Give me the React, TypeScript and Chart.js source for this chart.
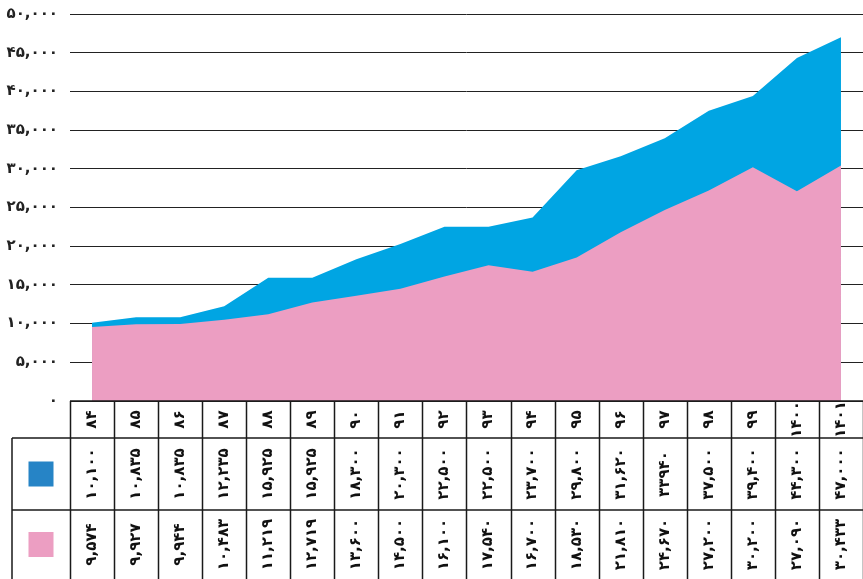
import React, { useEffect, useRef } from 'react';
import { Chart, registerables } from 'chart.js';
Chart.register(...registerables);

const categories = ['۸۴', '۸۵', '۸۶', '۸۷', '۸۸', '۸۹', '۹۰', '۹۱', '۹۲', '۹۳', '۹۴', '۹۵', '۹۶', '۹۷', '۹۸', '۹۹', '۱۴۰۰', '۱۴۰۱'];
const blueValues = [10100, 10835, 10835, 12235, 15925, 15925, 18300, 20300, 22500, 22500, 23700, 29800, 31620, 33940, 37500, 39400, 44300, 47000];
const pinkValues = [9574, 9927, 9944, 10483, 11219, 12719, 13600, 14500, 16100, 17540, 16700, 18530, 21810, 24670, 27200, 30200, 27090, 30433];
const blueLabels = ['۱۰,۱۰۰', '۱۰,۸۳۵', '۱۰,۸۳۵', '۱۲,۲۳۵', '۱۵,۹۲۵', '۱۵,۹۲۵', '۱۸,۳۰۰', '۲۰,۳۰۰', '۲۲,۵۰۰', '۲۲,۵۰۰', '۲۳,۷۰۰', '۲۹,۸۰۰', '۳۱,۶۲۰', '۳۳۹۴۰', '۳۷,۵۰۰', '۳۹,۴۰۰', '۴۴,۳۰۰', '۴۷,۰۰۰'];
const pinkLabels = ['۹,۵۷۴', '۹,۹۲۷', '۹,۹۴۴', '۱۰,۴۸۳', '۱۱,۲۱۹', '۱۲,۷۱۹', '۱۳,۶۰۰', '۱۴,۵۰۰', '۱۶,۱۰۰', '۱۷,۵۴۰', '۱۶,۷۰۰', '۱۸,۵۳۰', '۲۱,۸۱۰', '۲۴,۶۷۰', '۲۷,۲۰۰', '۳۰,۲۰۰', '۲۷,۰۹۰', '۳۰,۴۳۳'];

const BLUE_AREA = 'rgb(0,165,227)';
const PINK_AREA = 'rgb(236,158,194)';
const BLUE_KEY = 'rgb(38,132,198)';
const FONT = 'DejaVu Sans';

const toPersian = (n: number) => {
  const s = Math.round(n).toString().replace(/\B(?=(\d{3})+(?!\d))/g, ',');
  return s.replace(/\d/g, (d) => '۰۱۲۳۴۵۶۷۸۹'[Number(d)]);
};

const tablePlugin = {
  id: 'dataTable',
  afterDraw(chart: any) {
    const ctx = chart.ctx as CanvasRenderingContext2D;
    const xs = chart.scales.x;
    const { left, right, bottom } = chart.chartArea;
    const step = xs.getPixelForValue(1) - xs.getPixelForValue(0);
    const top = bottom;
    const hdrB = 438;
    const row1B = 510;
    const row2B = chart.height + 5;
    const legendL = 12;
    ctx.save();
    ctx.strokeStyle = '#1a1a1a';
    ctx.lineWidth = 1.5;
    ctx.beginPath();
    ctx.moveTo(left, top); ctx.lineTo(right, top);
    ctx.moveTo(legendL, hdrB); ctx.lineTo(right, hdrB);
    ctx.moveTo(legendL, row1B); ctx.lineTo(right, row1B);
    ctx.moveTo(legendL, hdrB); ctx.lineTo(legendL, row2B);
    for (let i = 0; i <= categories.length; i++) {
      const x = Math.round(xs.getPixelForValue(0) - step / 2 + i * step) + 0.5;
      ctx.moveTo(x, top); ctx.lineTo(x, row2B);
    }
    ctx.stroke();

    // legend keys
    const midL = (legendL + left) / 2;
    ctx.fillStyle = BLUE_KEY;
    ctx.fillRect(midL - 12.5, (hdrB + row1B) / 2 - 12.5, 25, 25);
    ctx.fillStyle = PINK_AREA;
    ctx.fillRect(midL - 12.5, (row1B + 579) / 2 - 12.5, 25, 25);

    ctx.fillStyle = '#111';
    ctx.font = `bold 15px "${FONT}"`;
    ctx.textAlign = 'center';
    ctx.textBaseline = 'middle';
    const drawRot = (t: string, x: number, y: number) => {
      ctx.save();
      ctx.translate(x, y);
      ctx.rotate(-Math.PI / 2);
      ctx.fillText(t, 0, 0);
      ctx.restore();
    };
    categories.forEach((c, i) => {
      const x = xs.getPixelForValue(i);
      drawRot(c, x, (top + hdrB) / 2);
      drawRot(blueLabels[i], x, (hdrB + row1B) / 2);
      drawRot(pinkLabels[i], x, (row1B + 579) / 2);
    });
    ctx.restore();
  },
};

export default function App() {
  const ref = useRef<HTMLCanvasElement>(null);
  useEffect(() => {
    document.body.style.margin = '0';
    const chart = new Chart(ref.current!, {
      type: 'line',
      data: {
        labels: categories,
        datasets: [
          {
            label: 'pink',
            data: pinkValues,
            backgroundColor: PINK_AREA,
            borderWidth: 0,
            borderColor: PINK_AREA,
            pointRadius: 0,
            fill: 'origin',
            tension: 0,
            order: 0,
          },
          {
            label: 'blue',
            data: blueValues,
            backgroundColor: BLUE_AREA,
            borderWidth: 0,
            borderColor: BLUE_AREA,
            pointRadius: 0,
            fill: 'origin',
            tension: 0,
            order: 1,
          },
        ],
      },
      options: {
        responsive: false,
        animation: false,
        devicePixelRatio: 1,
        layout: { padding: { top: 14, bottom: 178, left: 0, right: 0 } },
        plugins: { legend: { display: false }, tooltip: { enabled: false } },
        scales: {
          x: {
            display: false,
            offset: true,
          },
          y: {
            min: 0,
            max: 50000,
            ticks: {
              stepSize: 5000,
              padding: 12,
              color: '#222',
              font: { family: FONT, size: 15, weight: 'bold' },
              callback: (v: any) => toPersian(Number(v)),
            },
            grid: { color: '#222', lineWidth: 1, drawTicks: false },
            border: { display: false },
            afterFit: (s: any) => { s.width = 70; s.paddingTop = 0; s.paddingBottom = 0; },
          },
        },
      },
      plugins: [tablePlugin],
    });
    return () => chart.destroy();
  }, []);
  return (
    <div style={{ width: 863, height: 579 }}>
      <canvas ref={ref} width={863} height={579} style={{ display: 'block' }} />
    </div>
  );
}
